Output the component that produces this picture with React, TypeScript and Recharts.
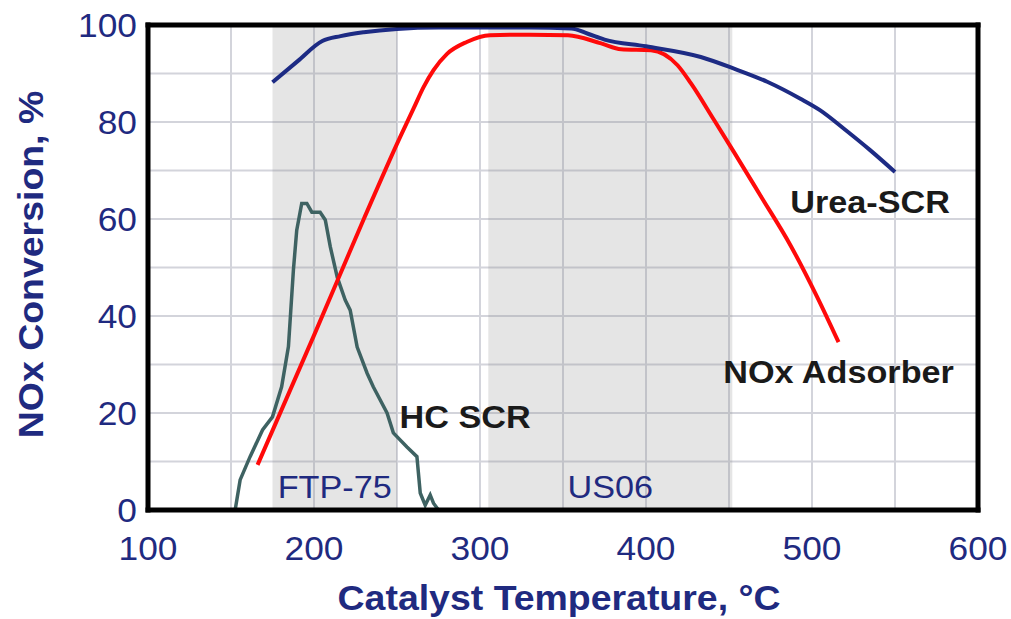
import React from 'react';
import {
  LineChart,
  Line,
  XAxis,
  YAxis,
  CartesianGrid,
  ReferenceArea,
  ReferenceLine,
  ReferenceDot,
  Label,
} from 'recharts';

// Urea-SCR curve
const ureaTemp = [175, 190, 205, 216, 230, 250, 275, 300, 330, 355, 365, 375, 400, 433, 453, 473, 493, 505, 520, 535, 550];
const ureaConv = [88.2, 92.5, 96.7, 97.7, 98.5, 99.2, 99.5, 99.5, 99.5, 99.3, 98.2, 97, 95.6, 93.4, 91, 88.3, 84.8, 82.4, 78.4, 74.2, 69.7];

// NOx Adsorber curve
const noxTemp = [166, 200, 230, 252, 260, 266, 272, 280, 292, 306, 330, 353, 373, 385, 403, 419, 427, 441, 453, 469, 487, 503, 516];
const noxConv = [9.3, 36, 60, 77, 82.8, 87.2, 90.7, 94, 96.5, 97.9, 98, 97.9, 96.2, 95, 94.8, 91.7, 88, 80.4, 73.8, 64.8, 54.6, 44, 34.6];

// HC SCR curve
const hcTemp = [152.5, 155.5, 161.5, 169, 175, 180.5, 184.6, 187.6, 189.6, 192.6, 195.7, 198.7, 203.7, 206.8, 209.8, 214, 218.8, 221.8, 226, 232, 235.7, 244, 247.8, 256, 262, 264, 267, 270, 272, 275];
const hcConv = [0, 6.2, 11, 16.5, 19.2, 25.4, 33.7, 49.5, 57.7, 63.2, 63.2, 61.4, 61.4, 59.8, 54.3, 48, 43.3, 41.2, 33.6, 28.2, 25.4, 20, 15.9, 13, 11, 3.5, 1, 3.1, 1.4, 0];

// test cycle bands
const bandNames = ['FTP-75', 'US06'];
const bandStart = [175, 305];
const bandEnd = [250, 452];

// ticks
const xTicks = [100, 150, 200, 250, 300, 350, 400, 450, 500, 550, 600];
const yTicks = [0, 10, 20, 30, 40, 50, 60, 70, 80, 90, 100];

// curve labels
const labelText = ['Urea-SCR', 'NOx Adsorber', 'HC SCR'];
const labelTemp = [535, 516, 291];
const labelConv = [63.6, 28.6, 19.3];

const NAVY = '#1f2a80';
const FONT = '"Liberation Sans", Arial, sans-serif';
const STRETCH = 1.07;

const toPoints = (t: number[], v: number[]) => t.map((x, i) => ({ t: x, v: v[i] }));
const ureaData = toPoints(ureaTemp, ureaConv);
const noxData = toPoints(noxTemp, noxConv);
const hcData = toPoints(hcTemp, hcConv);

const SText = ({ x, y, anchor = 'middle', size, weight = 'normal', fill, angle = 0, children }: any) => (
  <text
    transform={`translate(${x},${y}) rotate(${angle}) scale(${STRETCH},1)`}
    textAnchor={anchor}
    fontSize={size}
    fontWeight={weight}
    fill={fill}
    fontFamily={FONT}
  >
    {children}
  </text>
);

const XTick = ({ x, y, payload }: any) =>
  payload.value % 100 === 0 ? (
    <SText x={x} y={y + 50} size={33} fill={NAVY}>
      {payload.value}
    </SText>
  ) : null;

const YTick = ({ x, y, payload }: any) =>
  payload.value % 20 === 0 ? (
    <SText x={x - 11} y={y + 12} anchor="end" size={33} fill={NAVY}>
      {payload.value}
    </SText>
  ) : null;

const XTitle = ({ viewBox }: any) => (
  <SText x={viewBox.x + viewBox.width / 2 - 4} y={viewBox.y + 100} size={35} weight="bold" fill={NAVY}>
    Catalyst Temperature, °C
  </SText>
);

const YTitle = ({ viewBox }: any) => (
  <SText x={43} y={viewBox.y + viewBox.height / 2 - 3} size={35} weight="bold" fill={NAVY} angle={-90}>
    NOx Conversion, %
  </SText>
);

export default function App() {
  return (
    <div style={{ position: 'absolute', left: 0, top: 0, background: '#fff' }}>
      <LineChart width={1011} height={619} margin={{ top: 25, right: 33, bottom: 0, left: 0 }}>
        <CartesianGrid stroke="#d3d4db" strokeWidth={2} />
        <XAxis
          type="number"
          dataKey="t"
          domain={[100, 600]}
          ticks={xTicks}
          interval={0}
          height={109}
          axisLine={false}
          tickLine={false}
          tickSize={0}
          tickMargin={0}
          tick={<XTick />}
        >
          <Label content={XTitle} />
        </XAxis>
        <YAxis
          type="number"
          domain={[0, 100]}
          ticks={yTicks}
          interval={0}
          width={148}
          axisLine={false}
          tickLine={false}
          tickSize={0}
          tickMargin={0}
          tick={<YTick />}
        >
          <Label content={YTitle} />
        </YAxis>
        {bandNames.map((name, i) => (
          <ReferenceArea
            key={name}
            x1={bandStart[i]}
            x2={bandEnd[i]}
            y1={0}
            y2={100}
            fill="#878787"
            fillOpacity={0.22}
            stroke="none"
          />
        ))}
        {bandNames.map((name, i) => (
          <ReferenceDot
            key={`bl-${name}`}
            x={(bandStart[i] + bandEnd[i]) / 2}
            y={4.9}
            r={1}
            shape={(p: any) => (
              <SText x={p.cx} y={p.cy + 11.5} size={32} fill={NAVY}>
                {name}
              </SText>
            )}
          />
        ))}
        <Line data={hcData} dataKey="v" type="linear" stroke="#3e6262" strokeWidth={3.5} dot={false} isAnimationActive={false} />
        <Line data={noxData} dataKey="v" type="monotone" stroke="#ff0a0a" strokeWidth={4} dot={false} isAnimationActive={false} />
        <Line data={ureaData} dataKey="v" type="monotone" stroke="#1d2b84" strokeWidth={4} dot={false} isAnimationActive={false} />
        {labelText.map((txt, i) => (
          <ReferenceDot
            key={txt}
            x={labelTemp[i]}
            y={labelConv[i]}
            r={1}
            shape={(p: any) => (
              <SText x={p.cx} y={p.cy + 11.5} size={32} weight="bold" fill="#1a1a1a">
                {txt}
              </SText>
            )}
          />
        ))}
        <ReferenceLine x={100} stroke="#000" strokeWidth={5} strokeLinecap="square" />
        <ReferenceLine x={600} stroke="#000" strokeWidth={5} strokeLinecap="square" />
        <ReferenceLine y={0} stroke="#000" strokeWidth={5} strokeLinecap="square" />
        <ReferenceLine y={100} stroke="#000" strokeWidth={5} strokeLinecap="square" />
      </LineChart>
    </div>
  );
}
